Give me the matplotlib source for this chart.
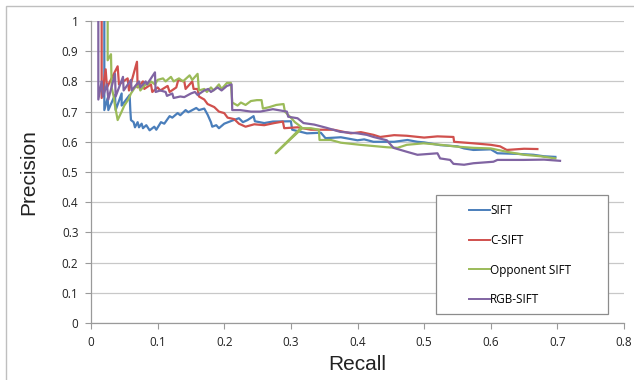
import matplotlib
matplotlib.use('Agg')
import matplotlib.pyplot as plt
from matplotlib.patches import Rectangle

# Curvas precision-recall
sift_recall = [0.020, 0.020, 0.025, 0.026, 0.036, 0.037, 0.046, 0.046, 0.058, 0.059,
               0.060, 0.064, 0.066, 0.070, 0.072, 0.076, 0.078, 0.083, 0.088, 0.095,
               0.098, 0.105, 0.110, 0.118, 0.122, 0.130, 0.134, 0.142, 0.146, 0.158,
               0.162, 0.170, 0.175, 0.180, 0.182, 0.188, 0.192, 0.200, 0.214, 0.222,
               0.228, 0.235, 0.244, 0.246, 0.260, 0.273, 0.300, 0.302, 0.324, 0.345,
               0.352, 0.375, 0.400, 0.410, 0.424, 0.455, 0.475, 0.490, 0.500, 0.524,
               0.550, 0.560, 0.574, 0.600, 0.610, 0.640, 0.664, 0.680, 0.697]
sift_precision = [1.00, 0.705, 0.745, 0.705, 0.755, 0.705, 0.760, 0.720, 0.755, 0.705,
                  0.672, 0.665, 0.648, 0.665, 0.648, 0.660, 0.645, 0.655, 0.638, 0.650,
                  0.640, 0.665, 0.660, 0.685, 0.680, 0.695, 0.688, 0.705, 0.698, 0.712,
                  0.705, 0.710, 0.690, 0.665, 0.650, 0.655, 0.645, 0.660, 0.672, 0.678,
                  0.665, 0.672, 0.685, 0.668, 0.662, 0.667, 0.668, 0.640, 0.628, 0.630,
                  0.612, 0.615, 0.605, 0.608, 0.600, 0.600, 0.606, 0.600, 0.598, 0.589,
                  0.585, 0.578, 0.573, 0.575, 0.562, 0.560, 0.557, 0.552, 0.550]

csift_recall = [0.016, 0.016, 0.022, 0.024, 0.040, 0.042, 0.055, 0.057, 0.069, 0.070,
                0.078, 0.080, 0.090, 0.092, 0.100, 0.104, 0.115, 0.118, 0.128, 0.131,
                0.140, 0.142, 0.152, 0.154, 0.160, 0.162, 0.170, 0.175, 0.185, 0.192,
                0.200, 0.205, 0.215, 0.222, 0.232, 0.245, 0.260, 0.275, 0.288, 0.290,
                0.310, 0.330, 0.364, 0.390, 0.405, 0.424, 0.434, 0.455, 0.474, 0.500,
                0.520, 0.544, 0.545, 0.574, 0.600, 0.614, 0.624, 0.650, 0.670]
csift_precision = [1.00, 0.745, 0.840, 0.780, 0.850, 0.790, 0.810, 0.770, 0.865, 0.780,
                   0.800, 0.775, 0.790, 0.765, 0.780, 0.770, 0.785, 0.765, 0.780, 0.805,
                   0.800, 0.775, 0.800, 0.775, 0.775, 0.750, 0.740, 0.725, 0.715, 0.700,
                   0.695, 0.680, 0.675, 0.660, 0.650, 0.658, 0.655, 0.662, 0.667, 0.645,
                   0.648, 0.640, 0.640, 0.628, 0.632, 0.623, 0.616, 0.622, 0.620, 0.614,
                   0.618, 0.616, 0.600, 0.595, 0.590, 0.585, 0.573, 0.577, 0.576]

opp_recall = [0.025, 0.025, 0.030, 0.031, 0.034, 0.036, 0.040, 0.046, 0.050, 0.056,
              0.060, 0.066, 0.072, 0.074, 0.082, 0.086, 0.090, 0.096, 0.100, 0.108,
              0.112, 0.120, 0.124, 0.132, 0.138, 0.148, 0.152, 0.160, 0.162, 0.170,
              0.174, 0.180, 0.184, 0.192, 0.196, 0.204, 0.210, 0.212, 0.220, 0.225,
              0.232, 0.240, 0.249, 0.256, 0.258, 0.268, 0.278, 0.289, 0.291, 0.300,
              0.306, 0.312, 0.316, 0.277, 0.317, 0.330, 0.342, 0.343, 0.360, 0.375,
              0.404, 0.444, 0.460, 0.474, 0.499, 0.525, 0.549, 0.574, 0.600, 0.624,
              0.650, 0.675, 0.697]
opp_precision = [1.00, 0.870, 0.890, 0.780, 0.750, 0.720, 0.672, 0.700, 0.720, 0.740,
                 0.760, 0.780, 0.785, 0.770, 0.790, 0.790, 0.800, 0.790, 0.805, 0.810,
                 0.800, 0.815, 0.800, 0.810, 0.800, 0.820, 0.805, 0.825, 0.770, 0.775,
                 0.765, 0.780, 0.770, 0.790, 0.775, 0.795, 0.795, 0.730, 0.720, 0.730,
                 0.722, 0.735, 0.738, 0.738, 0.710, 0.715, 0.722, 0.725, 0.700, 0.680,
                 0.665, 0.655, 0.648, 0.562, 0.645, 0.645, 0.640, 0.606, 0.606, 0.597,
                 0.590, 0.582, 0.580, 0.590, 0.595, 0.590, 0.584, 0.580, 0.578, 0.567,
                 0.557, 0.552, 0.545]

rgb_recall = [0.011, 0.011, 0.016, 0.018, 0.024, 0.026, 0.036, 0.037, 0.048, 0.049,
              0.060, 0.061, 0.072, 0.074, 0.082, 0.084, 0.096, 0.097, 0.104, 0.112,
              0.114, 0.122, 0.124, 0.134, 0.140, 0.150, 0.156, 0.160, 0.170, 0.176,
              0.180, 0.190, 0.196, 0.204, 0.211, 0.212, 0.224, 0.240, 0.254, 0.273,
              0.294, 0.296, 0.310, 0.319, 0.335, 0.354, 0.374, 0.400, 0.414, 0.424,
              0.444, 0.454, 0.474, 0.490, 0.520, 0.524, 0.539, 0.544, 0.560, 0.574,
              0.604, 0.610, 0.649, 0.680, 0.704]
rgb_precision = [1.00, 0.740, 0.800, 0.750, 0.790, 0.740, 0.825, 0.750, 0.815, 0.770,
                 0.805, 0.770, 0.800, 0.780, 0.800, 0.790, 0.830, 0.765, 0.770, 0.765,
                 0.752, 0.760, 0.745, 0.750, 0.748, 0.760, 0.765, 0.755, 0.770, 0.775,
                 0.765, 0.780, 0.770, 0.785, 0.790, 0.705, 0.705, 0.700, 0.700, 0.708,
                 0.700, 0.683, 0.678, 0.662, 0.657, 0.646, 0.633, 0.628, 0.623, 0.616,
                 0.605, 0.580, 0.567, 0.557, 0.562, 0.545, 0.540, 0.527, 0.524, 0.529,
                 0.534, 0.540, 0.540, 0.541, 0.537]

x_ticks = [0, 0.1, 0.2, 0.3, 0.4, 0.5, 0.6, 0.7, 0.8]
x_labels = ['0', '0.1', '0.2', '0.3', '0.4', '0.5', '0.6', '0.7', '0.8']
y_ticks = [0, 0.1, 0.2, 0.3, 0.4, 0.5, 0.6, 0.7, 0.8, 0.9, 1]
y_labels = ['0', '0.1', '0.2', '0.3', '0.4', '0.5', '0.6', '0.7', '0.8', '0.9', '1']

W, H = 634, 380
fig = plt.figure(figsize=(W / 100, H / 100), dpi=100)
fig.patch.set_facecolor('white')

# marco exterior del gráfico (estilo Excel)
fig.patches.append(Rectangle((6 / W, -0.1), 2, 1.1 - 6 / H, transform=fig.transFigure,
                             fill=False, edgecolor='#BFBFBF', linewidth=1))

ax = fig.add_axes([91 / W, 1 - 323 / H, (624 - 91) / W, (323 - 21) / H])

ax.plot(sift_recall, sift_precision, color='#4A7EBB', lw=1.6, label='SIFT')
ax.plot(csift_recall, csift_precision, color='#D0504D', lw=1.6, label='C-SIFT')
ax.plot(opp_recall, opp_precision, color='#9BBB59', lw=1.6, label='Opponent SIFT')
ax.plot(rgb_recall, rgb_precision, color='#8064A2', lw=1.6, label='RGB-SIFT')

ax.set_xlim(0, 0.8)
ax.set_ylim(0, 1)
ax.set_xticks(x_ticks)
ax.set_xticklabels(x_labels)
ax.set_yticks(y_ticks)
ax.set_yticklabels(y_labels)
ax.grid(axis='y', color='#C8C8C8', lw=0.9)
ax.set_axisbelow(True)

for s in ['top', 'right']:
    ax.spines[s].set_visible(False)
for s in ['left', 'bottom']:
    ax.spines[s].set_color('#9A9A9A')
    ax.spines[s].set_linewidth(0.9)
ax.tick_params(direction='out', length=4, width=0.8, color='#9A9A9A',
               labelsize=8.5, labelcolor='#222222', pad=5)
for t in ax.get_xticklabels() + ax.get_yticklabels():
    t.set_family('Open Sans')

ax.set_xlabel('Recall', fontsize=15, family='Liberation Sans', color='#222222', labelpad=5)
ax.set_ylabel('Precision', fontsize=15, family='Liberation Sans', color='#222222', labelpad=17)

# caja de la leyenda dibujada aparte, la leyenda va sin marco
ax.add_patch(Rectangle((436 / W, 1 - 314 / H), (608 - 436) / W, (314 - 195) / H,
                       transform=fig.transFigure, facecolor='white', clip_on=False,
                       edgecolor='#8C8C8C', linewidth=0.9, zorder=5))
leg = ax.legend(loc='upper left', bbox_to_anchor=(469 / W, 1 - 204 / H),
                bbox_transform=fig.transFigure, frameon=False,
                prop={'family': 'Open Sans', 'size': 8.5}, handlelength=1.8,
                handletextpad=0.0, labelspacing=1.42, borderpad=0,
                borderaxespad=0)
leg.set_zorder(6)
for line in leg.get_lines():
    line.set_linewidth(1.4)

fig.savefig('out.png', dpi=100)
